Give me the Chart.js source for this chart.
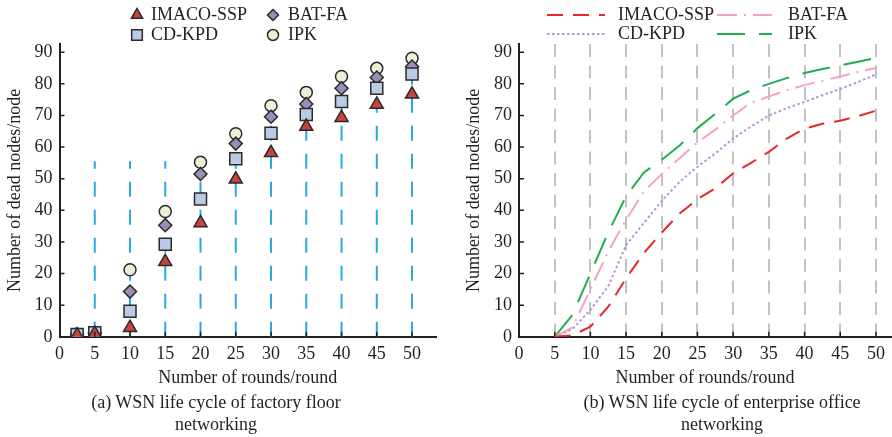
<!DOCTYPE html>
<html>
<head>
<meta charset="utf-8">
<script src="https://cdn.jsdelivr.net/npm/chart.js@4.4.1/dist/chart.umd.min.js"></script>
<style>
html, body { margin: 0; padding: 0; background: #fff; }
#wrap { position: relative; width: 892px; height: 437px; display: flex; }
.box { position: relative; width: 446px; height: 437px; }
.cap { position: absolute; top: 391px; width: 400px; text-align: center;
       font: 18px/22px "Liberation Serif", "Times New Roman", serif; color: #231f20; }
</style>
</head>
<body>
<div id="wrap">
  <div class="box"><canvas id="left"></canvas></div>
  <div class="box"><canvas id="right"></canvas></div>
  <div class="cap" style="left:16px">(a) WSN life cycle of factory floor<br>networking</div>
  <div class="cap" style="left:522px">(b) WSN life cycle of enterprise office<br>networking</div>
</div>
<script>
// (a) factory floor networking - marker values
const roundsA = [2.5, 5, 10, 15, 20, 25, 30, 35, 40, 45, 50];
const imacoA  = [0.5, 1, 2.9, 23.7, 36, 49.8, 58.2, 66.5, 69.3, 73.5, 76.7];
const batA    = [0.7, 1.2, 14.3, 35.3, 51.5, 61.1, 69.6, 73.6, 78.6, 82, 85.5];
const cdkpdA  = [0.7, 1.3, 8.1, 29.3, 43.6, 56.3, 64.4, 70.3, 74.4, 78.6, 83.1];
const ipkA    = [0.8, 1.2, 21.2, 39.6, 55.2, 64.2, 73.1, 77.3, 82.3, 84.9, 88.1];
// blue dashed drop lines (a)
const dropX   = [5, 10, 15, 20, 25, 30, 35, 40, 45, 50];
const dropTop = [55.5, 55.5, 55.5, 55.5, 64, 73, 77, 82, 88, 88];

// (b) enterprise office networking - curves
const roundsB = [5, 7.5, 10, 12.5, 15, 17.5, 20, 22.5, 25, 27.5, 30, 32.5, 35, 37.5, 40, 42.5, 45, 47.5, 50];
const imacoB  = [0, 0.5, 3.2, 9.5, 18.5, 26.5, 33, 39, 43.5, 47, 51.7, 55, 58.5, 62.7, 65.8, 67.4, 68.3, 69.8, 71.5];
const batB    = [0, 3, 15, 27, 37, 46, 51.5, 56.5, 61.5, 65.5, 70, 74, 76, 78, 79.6, 81, 82.3, 83.8, 85];
const cdkpdB  = [0, 2.5, 8.5, 16, 29, 36, 43, 49, 53.8, 58, 62.7, 66.5, 70, 72.3, 74.3, 76.4, 78.4, 80.6, 83];
const ipkB    = [0, 7, 20, 33, 44.5, 52, 56, 60.5, 66, 70.5, 75.3, 78, 80, 81.8, 83.4, 84.7, 85.8, 87, 88.2];

const legendOrder = ['IMACO-SSP', 'BAT-FA', 'CD-KPD', 'IPK'];
const xTitle = 'Number of rounds/round';
const yTitle = 'Number of dead nodes/node';

const ink = '#231f20';
const serif = '"Liberation Serif", "Times New Roman", serif';
Chart.defaults.font.family = serif;
Chart.defaults.font.size = 18;
Chart.defaults.color = ink;

const pts = (xs, ys) => xs.map((x, i) => ({ x: x, y: ys[i] }));

// small ticks pointing into the plot
const innerTicks = {
  id: 'innerTicks',
  afterDraw(chart) {
    const { ctx, chartArea, scales } = chart;
    ctx.save();
    ctx.strokeStyle = ink;
    ctx.lineWidth = 1.5;
    ctx.beginPath();
    scales.x.ticks.forEach(t => {
      if (t.value === 0) return;
      const px = scales.x.getPixelForValue(t.value);
      ctx.moveTo(px, chartArea.bottom);
      ctx.lineTo(px, chartArea.bottom - 5);
    });
    scales.y.ticks.forEach(t => {
      if (t.value === 0) return;
      const py = scales.y.getPixelForValue(t.value);
      ctx.moveTo(chartArea.left, py);
      ctx.lineTo(chartArea.left + 5, py);
    });
    ctx.stroke();
    ctx.restore();
  }
};

// 2x2 legend at the top
const gridLegend = {
  id: 'gridLegend',
  afterDraw(chart, args, o) {
    const ctx = chart.ctx;
    ctx.save();
    ctx.font = '18px ' + serif;
    ctx.textBaseline = 'middle';
    ctx.textAlign = 'left';
    legendOrder.forEach((name, i) => {
      const ds = chart.data.datasets.find(d => d.label === name);
      const col = i % 2, row = Math.floor(i / 2);
      const y = o.rowY[row];
      if (o.kind === 'marker') {
        ctx.fillStyle = ds.backgroundColor;
        ctx.strokeStyle = ds.borderColor;
        ctx.lineWidth = 1.5;
        Chart.helpers.drawPoint(ctx, { pointStyle: ds.pointStyle, radius: o.radius[name], rotation: 0, borderWidth: 1.5 }, o.markX[col], y);
      } else {
        ctx.strokeStyle = ds.borderColor;
        ctx.lineWidth = 2;
        ctx.setLineDash(ds.borderDash);
        ctx.beginPath();
        ctx.moveTo(o.lineX[col][0], y);
        ctx.lineTo(o.lineX[col][1], y);
        ctx.stroke();
        ctx.setLineDash([]);
      }
      ctx.fillStyle = ink;
      ctx.fillText(name, o.textX[col], y);
    });
    ctx.restore();
  }
};

const dropData = dropX.flatMap((x, i) => [{ x: x, y: 0 }, { x: x, y: dropTop[i] }, { x: x, y: null }]);

new Chart(document.getElementById('left'), {
  type: 'scatter',
  data: {
    datasets: [
      { label: 'IMACO-SSP', data: pts(roundsA, imacoA), pointStyle: 'triangle', pointRadius: 7.5,
        backgroundColor: '#c7433b', borderColor: '#2a2a2a', borderWidth: 1.5, order: 1 },
      { label: 'CD-KPD', data: pts(roundsA, cdkpdA), pointStyle: 'rect', pointRadius: 8.5,
        backgroundColor: '#b9cce4', borderColor: '#2a2a2a', borderWidth: 1.5, order: 2 },
      { label: 'BAT-FA', data: pts(roundsA, batA), pointStyle: 'rectRot', pointRadius: 6.5,
        backgroundColor: '#9b8db9', borderColor: '#2a2a2a', borderWidth: 1.5, order: 3 },
      { label: 'IPK', data: pts(roundsA, ipkA), pointStyle: 'circle', pointRadius: 6,
        backgroundColor: '#eef0d5', borderColor: '#2a2a2a', borderWidth: 1.5, order: 4 },
      { label: 'drop', data: dropData, showLine: true, spanGaps: false, pointRadius: 0,
        borderColor: '#2aa9e0', borderWidth: 2, borderDash: [15, 13], order: 10 }
    ]
  },
  options: {
    responsive: true,
    maintainAspectRatio: false,
    animation: false,
    events: [],
    layout: { padding: { top: 44, right: 4.3, left: 0, bottom: 48 } },
    plugins: {
      legend: { display: false },
      tooltip: { enabled: false },
      gridLegend: { kind: 'marker', markX: [137, 273], textX: [151, 288], rowY: [15, 35],
        radius: { 'IMACO-SSP': 6.5, 'CD-KPD': 7.5, 'BAT-FA': 5.5, 'IPK': 5.5 } }
    },
    scales: {
      x: {
        type: 'linear', min: 0, max: 53.4,
        ticks: { stepSize: 5, includeBounds: false, padding: 7, maxRotation: 0 },
        grid: { display: false, drawTicks: false },
        border: { color: ink, width: 2 },
        title: { display: true, text: xTitle, padding: { top: -5, bottom: 0 } }
      },
      y: {
        min: 0, max: 92.6,
        ticks: { stepSize: 10, includeBounds: false, padding: 7 },
        grid: { display: false, drawTicks: false },
        border: { color: ink, width: 2 },
        title: { display: true, text: yTitle, padding: { top: 4, bottom: 4 } },
        afterFit(s) { s.width = 59.5; }
      }
    }
  },
  plugins: [innerTicks, gridLegend]
});

new Chart(document.getElementById('right'), {
  type: 'line',
  data: {
    datasets: [
      { label: 'IMACO-SSP', data: pts(roundsB, imacoB), borderColor: '#e8282b', borderDash: [16, 10] },
      { label: 'BAT-FA', data: pts(roundsB, batB), borderColor: '#f4a2c6', borderDash: [20, 7, 2, 7] },
      { label: 'CD-KPD', data: pts(roundsB, cdkpdB), borderColor: '#b594d8', borderDash: [2.5, 2.5] },
      { label: 'IPK', data: pts(roundsB, ipkB), borderColor: '#1fae4e', borderDash: [28, 14] }
    ]
  },
  options: {
    responsive: true,
    maintainAspectRatio: false,
    animation: false,
    events: [],
    elements: { line: { borderWidth: 2, tension: 0, fill: false }, point: { radius: 0 } },
    layout: { padding: { top: 44, right: 1, left: 13, bottom: 48 } },
    plugins: {
      legend: { display: false },
      tooltip: { enabled: false },
      gridLegend: { kind: 'line', lineX: [[101, 159], [271, 326]], textX: [172, 342], rowY: [15, 34] }
    },
    scales: {
      x: {
        type: 'linear', min: 0, max: 52.1,
        ticks: { stepSize: 5, includeBounds: false, padding: 7, maxRotation: 0 },
        grid: { drawTicks: false, lineWidth: 2,
                color: c => (c.tick && c.tick.value === 0) ? 'rgba(0,0,0,0)' : '#c2c2c2' },
        border: { color: ink, width: 2, dash: [13, 8.5] },
        title: { display: true, text: xTitle, padding: { top: -5, bottom: 0 } }
      },
      y: {
        min: 0, max: 92.6,
        ticks: { stepSize: 10, includeBounds: false, padding: 7 },
        grid: { display: false, drawTicks: false },
        border: { color: ink, width: 2 },
        title: { display: true, text: yTitle, padding: { top: 4, bottom: 4 } },
        afterFit(s) { s.width = 60; }
      }
    }
  },
  plugins: [innerTicks, gridLegend]
});
</script>
</body>
</html>
